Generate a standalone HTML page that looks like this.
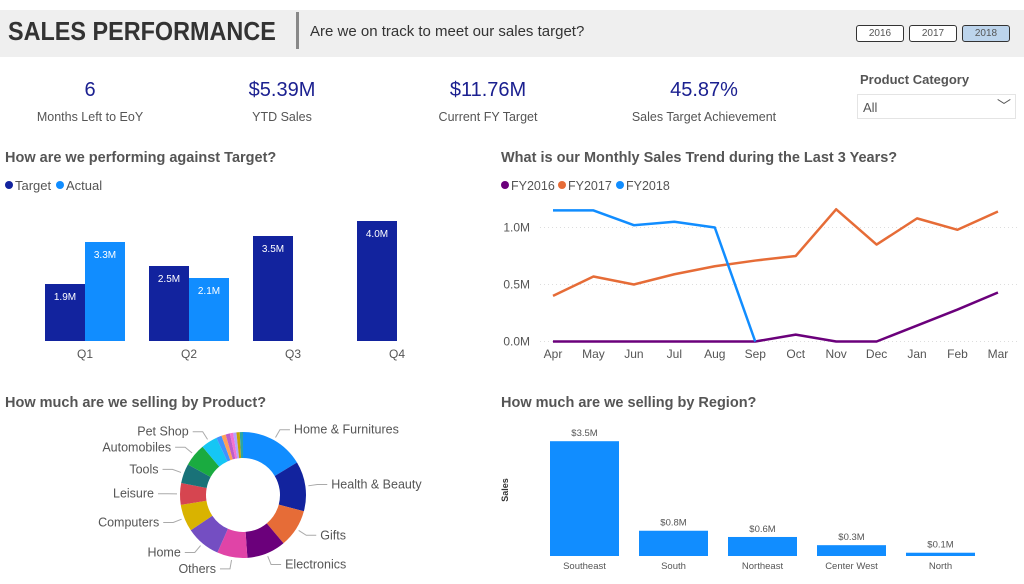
<!DOCTYPE html>
<html><head><meta charset="utf-8"><style>
body{margin:0;width:1024px;height:584px;background:#fff;font-family:"Liberation Sans",sans-serif;position:relative;overflow:hidden}
.a{position:absolute;white-space:nowrap}
.btn{position:absolute;top:25px;width:46px;height:15px;border:1px solid #333;border-radius:3px;font-size:10px;text-align:center;line-height:15px;color:#555;background:#fff}
.kv{position:absolute;top:79px;font-size:20px;color:#1b2090;transform:translateX(-50%)}
.kl{position:absolute;top:110px;font-size:12.5px;color:#555;transform:translateX(-50%)}
.st{position:absolute;font-size:14.5px;font-weight:bold;color:#555}
</style></head><body>
<div class="a" style="left:0;top:10px;width:1024px;height:47px;background:#efefef"></div>
<div class="a" style="left:8px;top:16px;font-size:26px;font-weight:bold;color:#333;transform:scaleX(0.9);transform-origin:0 0">SALES PERFORMANCE</div>
<div class="a" style="left:296px;top:12px;width:3px;height:37px;background:#888"></div>
<div class="a" style="left:310px;top:23px;font-size:15px;color:#333">Are we on track to meet our sales target?</div>
<div class="btn" style="left:856px">2016</div>
<div class="btn" style="left:909px">2017</div>
<div class="btn" style="left:962px;background:#bcd4ec">2018</div>

<div class="kv" style="left:90px">6</div>
<div class="kl" style="left:90px">Months Left to EoY</div>
<div class="kv" style="left:282px">$5.39M</div>
<div class="kl" style="left:282px">YTD Sales</div>
<div class="kv" style="left:488px">$11.76M</div>
<div class="kl" style="left:488px">Current FY Target</div>
<div class="kv" style="left:704px">45.87%</div>
<div class="kl" style="left:704px">Sales Target Achievement</div>
<div class="a" style="left:860px;top:72px;font-size:13px;font-weight:bold;color:#555">Product Category</div>
<div class="a" style="left:857px;top:94px;width:157px;height:23px;border:1px solid #e4e4e4;font-size:13px;color:#555"><span style="position:absolute;left:5px;top:5px">All</span><span style="position:absolute;right:4px;top:1px;font-size:14px">﹀</span></div>

<div class="st" style="left:5px;top:150px">How are we performing against Target?</div>
<div class="st" style="left:501px;top:150px">What is our Monthly Sales Trend during the Last 3 Years?</div>
<div class="st" style="left:5px;top:395px">How much are we selling by Product?</div>
<div class="st" style="left:501px;top:395px">How much are we selling by Region?</div>

<svg id="svg" class="a" style="left:0;top:0" width="1024" height="584" font-family="Liberation Sans, sans-serif"></svg>
<script>
const quarters=["Q1","Q2","Q3","Q4"];
const targetVals=[1.9,2.5,3.5,4.0];
const actualVals=[3.3,2.1,null,null];
const months=["Apr","May","Jun","Jul","Aug","Sep","Oct","Nov","Dec","Jan","Feb","Mar"];
const fy2016=[0,0,0,0,0,0,0.06,0,0,0.14,0.28,0.43];
const fy2017=[0.40,0.57,0.50,0.59,0.66,0.71,0.75,1.16,0.85,1.08,0.98,1.14];
const fy2018=[1.15,1.15,1.02,1.05,1.0,0,null,null,null,null,null,null];
const yTicks=[0,0.5,1.0];
const yTickLabels=["0.0M","0.5M","1.0M"];
const products=["Home & Furnitures","Health & Beauty","Gifts","Electronics","Others","Home","Computers","Leisure","Tools","Automobiles","Pet Shop","s1","s2","s3","s4","s5","s6","s7"];
const productVals=[59,46,35,36,28,32,25,20,18,21,15,5,4,4,3,3,3,3];
const productColors=["#118dff","#12239e","#e66c37","#6b007b","#e044a7","#744ec2","#d9b300","#d64550","#197278","#1aab40","#15c6f4","#4092ff","#ffa058","#be5dc9","#f472d0","#b5a1ff","#c4a200","#2aa5a5"];
const regions=["Southeast","South","Northeast","Center West","North"];
const regionVals=[3.5,0.77,0.58,0.33,0.1];
const regionLabels=["$3.5M","$0.8M","$0.6M","$0.3M","$0.1M"];

const S=document.getElementById('svg');const NS="http://www.w3.org/2000/svg";
function mk(t,a,txt){const e=document.createElementNS(NS,t);for(const k in a)e.setAttribute(k,a[k]);if(txt!=null)e.textContent=txt;S.appendChild(e);return e;}

let e;
e=mk('circle',{cx:9,cy:185,r:4,fill:'#12239e'});
e=mk('text',{x:15,y:190,'font-size':13,fill:'#555'},'Target');
e=mk('circle',{cx:60,cy:185,r:4,fill:'#118dff'});
e=mk('text',{x:66,y:190,'font-size':13,fill:'#555'},'Actual');

const bBase=341,bScale=30;
const bx=i=>45+i*104, by=v=>bBase-v*bScale;
quarters.forEach((q,i)=>{
  e=mk('rect',{x:bx(i),y:by(targetVals[i]),width:40,height:targetVals[i]*bScale,fill:'#12239e'});
  
  e=mk('text',{x:bx(i)+20,y:by(targetVals[i])+16,'font-size':10,fill:'#fff','text-anchor':'middle'},targetVals[i].toFixed(1)+'M');
  
  if(actualVals[i]!=null){
    e=mk('rect',{x:bx(i)+40,y:by(actualVals[i]),width:40,height:actualVals[i]*bScale,fill:'#118dff'});
    
    e=mk('text',{x:bx(i)+60,y:by(actualVals[i])+16,'font-size':10,fill:'#fff','text-anchor':'middle'},actualVals[i].toFixed(1)+'M');
    
  }
  e=mk('text',{x:bx(i)+40,y:358,'font-size':12,fill:'#555','text-anchor':'middle'},q);
  
});

const lx=i=>553+i*40.45, ly=v=>341.5-v*114;
[['FY2016','#6b007b',505],['FY2017','#e66c37',562],['FY2018','#118dff',620]].forEach(([n,c,x])=>{
  e=mk('circle',{cx:x,cy:185,r:4,fill:c});
  e=mk('text',{x:x+6,y:190,'font-size':12.5,fill:'#555'},n);
});
yTicks.forEach((t,i)=>{
  e=mk('line',{x1:540,x2:1020,y1:ly(t),y2:ly(t),stroke:'#ddd','stroke-dasharray':'1 3'});
  e=mk('text',{x:530,y:ly(t)+4,'font-size':12,fill:'#555','text-anchor':'end'},yTickLabels[i]);
});
months.forEach((m,i)=>{e=mk('text',{x:lx(i),y:358,'font-size':12,fill:'#555','text-anchor':'middle'},m);});
[[fy2016,'#6b007b','fy2016'],[fy2017,'#e66c37','fy2017'],[fy2018,'#118dff','fy2018']].forEach(([d,c,n])=>{
  const pts=d.map((v,i)=>v==null?null:lx(i)+','+ly(v)).filter(p=>p);
  e=mk('polyline',{points:pts.join(' '),fill:'none',stroke:c,'stroke-width':2.5,'stroke-linejoin':'round'});
  
});

const cx=243,cy=495,R=63,r=37;const tot=productVals.reduce((a,b)=>a+b,0);
let acc=0;
const pt=(a,rad)=>[cx+rad*Math.sin(a),cy-rad*Math.cos(a)];
productVals.forEach((v,i)=>{
  const a0=acc/tot*2*Math.PI;acc+=v;const a1=acc/tot*2*Math.PI;const lg=a1-a0>Math.PI?1:0;
  const [x0,y0]=pt(a0,R),[x1,y1]=pt(a1,R),[x2,y2]=pt(a1,r),[x3,y3]=pt(a0,r);
  e=mk('path',{d:`M${x0},${y0}A${R},${R} 0 ${lg} 1 ${x1},${y1}L${x2},${y2}A${r},${r} 0 ${lg} 0 ${x3},${y3}Z`,fill:productColors[i]});
  
  if(i<11){
    const am=(a0+a1)/2;const [lx0,ly0]=pt(am,R+3);const [lx1,ly1]=pt(am,R+12);
    const right=Math.sin(am)>0;const ex=lx1+(right?10:-10);
    e=mk('polyline',{points:`${lx0},${ly0} ${lx1},${ly1} ${ex},${ly1}`,fill:'none',stroke:'#aaa','stroke-width':1});
    
    e=mk('text',{x:ex+(right?4:-4),y:ly1+4,'font-size':12.5,fill:'#555','text-anchor':right?'start':'end'},products[i]);
    
  }
});

const rBase=556,rScale=32.8;const rx=i=>550+i*89;
e=mk('text',{x:0,y:0,'font-size':9,fill:'#333','font-weight':'bold',transform:'translate(508,490) rotate(-90)','text-anchor':'middle'},'Sales');

regions.forEach((g,i)=>{
  const h=regionVals[i]*rScale;
  e=mk('rect',{x:rx(i),y:rBase-h,width:69,height:h,fill:'#118dff'});
  
  e=mk('text',{x:rx(i)+34.5,y:rBase-h-5,'font-size':9.5,fill:'#555','text-anchor':'middle'},regionLabels[i]);
  
  e=mk('text',{x:rx(i)+34.5,y:569,'font-size':9.5,fill:'#555','text-anchor':'middle'},g);
  
});
</script>
</body></html>
